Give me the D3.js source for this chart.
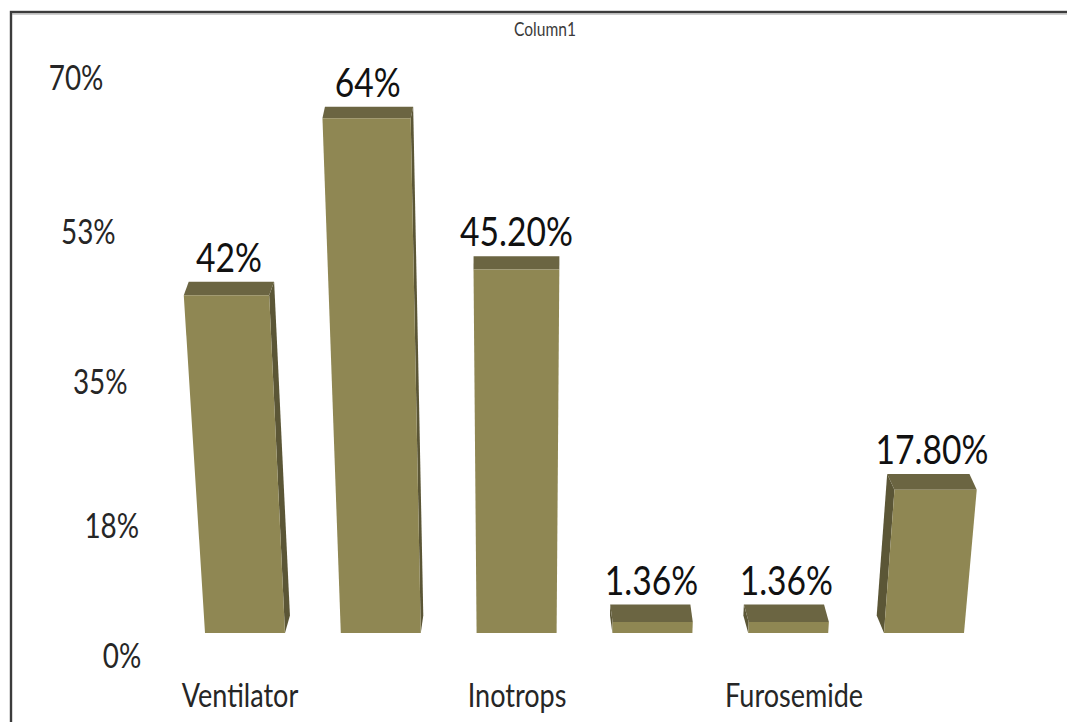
<!DOCTYPE html>
<html>
<head>
<meta charset="utf-8">
<script src="https://cdn.jsdelivr.net/npm/d3@7"></script>
<style>
  html, body { margin: 0; padding: 0; background: #ffffff; overflow: hidden; }
  svg { display: block; }
</style>
</head>
<body>
<svg id="chart" width="1067" height="722"></svg>
<script>
// ---- data ----
const categoryLabels = ["Ventilator", "", "Inotrops", "", "Furosemide", ""];
const values = [42, 64, 45.2, 1.36, 1.36, 17.8];
const valueLabels = ["42%", "64%", "45.20%", "1.36%", "1.36%", "17.80%"];
const yTicks = [0, 17.5, 35, 52.5, 70];
const yTickLabels = ["0%", "18%", "35%", "53%", "70%"];
const chartTitle = "Column1";

// ---- layout / style ----
const W = 1067, H = 722;
const baseY = 633;          // floor line of the bars
const barWidth = 80;
const vanishX = 519;        // horizontal centre of the perspective
const persp = 1 / 5000;     // lean of verticals per pixel of height
const squeeze = 0.82;       // horizontally condensed lettering
const FONT = "Lato, 'Open Sans', sans-serif";
const colFront = "#8f8753", colTop = "#6b6542", colSide = "#5b5636";

const svg = d3.select("#chart");
svg.append("rect").attr("width", W).attr("height", H).attr("fill", "#fff");

// chart frame (right and bottom edges run off the page)
svg.append("rect")
  .attr("x", 11).attr("y", 12).attr("width", W + 20).attr("height", H + 20)
  .attr("fill", "none").attr("stroke", "#3c3c3c").attr("stroke-width", 2.4);
svg.append("line").attr("x1", 12).attr("x2", W).attr("y1", 14).attr("y2", 14)
  .attr("stroke", "#a0a0a0").attr("stroke-width", 1);

// title
svg.append("text")
  .attr("x", 0).attr("y", 36)
  .attr("transform", `translate(545,0) scale(${squeeze},1)`)
  .attr("text-anchor", "middle")
  .attr("font-family", FONT).attr("font-size", 19).attr("fill", "#3a3a3a")
  .text(chartTitle);

// ---- scales ----
const idx = d3.range(values.length);
const xPos = d3.scalePoint().domain(idx).range([245, 924]);
const hScale = d3.scaleLinear().domain([0, 70]).range([0, 563]);
const yAxisScale = d3.scalePow().exponent(1.08).domain([0, 70]).range([655, 77]);

// perspective helpers
const tilt = (x, h) => x + (x - vanishX) * h * persp;
const depth = (xc, y) => ({ dx: (vanishX - xc) * 0.018, dy: -(10 + 0.012 * y) });
const shift = (p, d) => [p[0] + d.dx, p[1] + d.dy];
const poly = pts => "M" + pts.map(p => p.join(",")).join("L") + "Z";

// ---- bars ----
const bars = svg.append("g").attr("class", "bars");
idx.forEach(i => {
  const xc = xPos(i);
  const h = hScale(values[i]);
  const FBL = [xc - barWidth / 2, baseY], FBR = [xc + barWidth / 2, baseY];
  const FTL = [tilt(xc - barWidth / 2, h), baseY - h];
  const FTR = [tilt(xc + barWidth / 2, h), baseY - h];
  const dT = depth(xc, baseY - h), dB = depth(xc, baseY);
  const BTL = shift(FTL, dT), BTR = shift(FTR, dT);
  const BBL = shift(FBL, dB), BBR = shift(FBR, dB);
  const g = bars.append("g");
  if (dT.dx > 0.5) g.append("path").attr("d", poly([FTR, BTR, BBR, FBR])).attr("fill", colSide);
  else if (dT.dx < -0.5) g.append("path").attr("d", poly([FTL, BTL, BBL, FBL])).attr("fill", colSide);
  g.append("path").attr("d", poly([FTL, FTR, BTR, BTL])).attr("fill", colTop);
  g.append("path").attr("d", poly([FBL, FBR, FTR, FTL])).attr("fill", colFront);

  // value label above the top face
  const lx = tilt(xc, h) + dT.dx / 2;
  const ly = baseY - h + dT.dy - 10;
  svg.append("text")
    .attr("x", 0).attr("y", ly)
    .attr("transform", `translate(${lx},0) scale(${squeeze},1)`)
    .attr("text-anchor", "middle")
    .attr("font-family", FONT).attr("font-size", 41).attr("fill", "#111")
    .text(valueLabels[i]);
});

// ---- y axis (labels lean with the perspective) ----
const yAxisG = svg.append("g")
  .call(d3.axisLeft(yAxisScale).tickValues(yTicks)
        .tickFormat((d, i) => yTickLabels[i]).tickSize(0));
yAxisG.select(".domain").remove();
yAxisG.attr("font-family", FONT).attr("font-size", 34);
yAxisG.selectAll(".tick text")
  .attr("x", 0).attr("dy", "0.36em").attr("fill", "#262626")
  .attr("text-anchor", "middle")
  .attr("transform", d => `translate(${tilt(122, 655 - yAxisScale(d))},0) scale(${squeeze},1)`);

// ---- x axis (labels follow the floor perspective) ----
const xAxisG = svg.append("g").attr("transform", "translate(0,695)")
  .call(d3.axisBottom(xPos).tickFormat(i => categoryLabels[i]).tickSize(0));
xAxisG.select(".domain").remove();
xAxisG.attr("font-family", FONT).attr("font-size", 33);
xAxisG.selectAll(".tick text")
  .attr("y", 0).attr("dy", "0.36em").attr("fill", "#262626")
  .attr("transform", i => `translate(${(xPos(i) - vanishX) * 0.02},0) scale(${squeeze},1)`);
</script>
</body>
</html>
